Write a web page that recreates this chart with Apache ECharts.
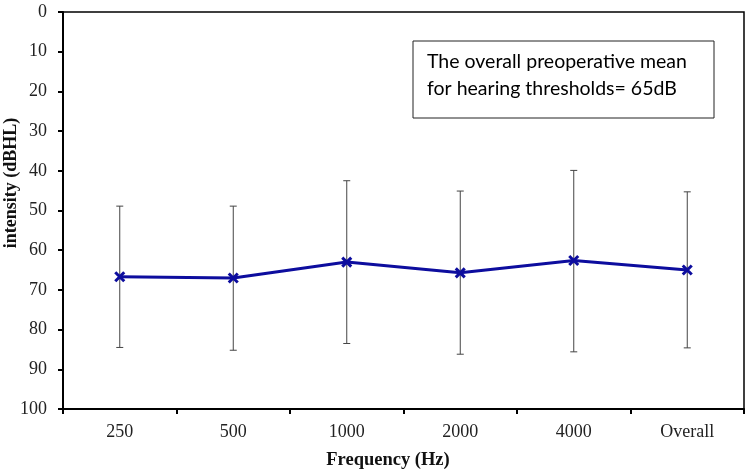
<!DOCTYPE html>
<html>
<head>
<meta charset="utf-8">
<script src="https://cdn.jsdelivr.net/npm/echarts@6/dist/echarts.min.js"></script>
<style>html,body{margin:0;padding:0;background:#fff;}#c{width:750px;height:471px;}</style>
</head>
<body>
<div id="c"></div>
<script>
var categories = ['250', '500', '1000', '2000', '4000', 'Overall'];
var meanValues = [66.7, 67.0, 63.0, 65.7, 62.6, 65.0];
var errTop = [48.9, 48.9, 42.5, 45.1, 39.9, 45.3];
var errBottom = [84.5, 85.2, 83.5, 86.2, 85.6, 84.6];
var yTicks = [0, 10, 20, 30, 40, 50, 60, 70, 80, 90, 100];

var chart = echarts.init(document.getElementById('c'), null, {renderer: 'canvas'});
var serif = '"Liberation Serif", "Times New Roman", serif';
var errData = categories.map(function (c, i) { return [i, errTop[i], errBottom[i]]; });

chart.setOption({
  animation: false,
  backgroundColor: '#fff',
  grid: {left: 63, right: 6, top: 12, bottom: 62, show: true, borderColor: '#000', borderWidth: 1.5, backgroundColor: 'transparent'},
  xAxis: {
    type: 'category', data: categories, boundaryGap: true,
    axisLine: {onZero: false, lineStyle: {color: '#000', width: 2}},
    axisTick: {show: true, alignWithLabel: false, length: 5, lineStyle: {color: '#000', width: 2}},
    axisLabel: {color: '#222', fontFamily: serif, fontSize: 18, margin: 14},
    splitLine: {show: false}
  },
  yAxis: {
    type: 'value', inverse: true, min: yTicks[0], max: yTicks[yTicks.length - 1], interval: 10,
    axisLine: {show: true, lineStyle: {color: '#000', width: 2}},
    axisTick: {show: true, length: 5, lineStyle: {color: '#000', width: 2}},
    axisLabel: {color: '#222', fontFamily: serif, fontSize: 18, margin: 16},
    splitLine: {show: false}
  },
  graphic: [
    {type: 'text', x: 388, y: 460, style: {text: 'Frequency (Hz)', font: 'bold 18.5px ' + serif, fill: '#111', align: 'center', verticalAlign: 'middle'}},
    {type: 'text', x: 11, y: 183, rotation: Math.PI / 2, style: {text: 'intensity (dBHL)', font: 'bold 18px ' + serif, fill: '#111', align: 'center', verticalAlign: 'middle'}},
    {type: 'rect', shape: {x: 413, y: 41, width: 301, height: 77}, style: {fill: '#fff', stroke: '#222', lineWidth: 1}},
    {type: 'text', x: 427, y: 62, style: {text: 'The overall preoperative mean', font: '19.5px Lato, "Open Sans", sans-serif', fill: '#000', verticalAlign: 'middle'}},
    {type: 'text', x: 427, y: 89, style: {text: 'for hearing thresholds= 65dB', font: '19.5px Lato, "Open Sans", sans-serif', fill: '#000', verticalAlign: 'middle'}}
  ],
  series: [
    {
      type: 'custom', data: errData, z: 2,
      renderItem: function (params, api) {
        var x = api.coord([api.value(0), api.value(1)]);
        var y = api.coord([api.value(0), api.value(2)]);
        var hw = 3.5;
        var st = {stroke: '#444', lineWidth: 1};
        return {type: 'group', children: [
          {type: 'line', shape: {x1: x[0], y1: x[1], x2: y[0], y2: y[1]}, style: st},
          {type: 'line', shape: {x1: x[0] - hw, y1: x[1], x2: x[0] + hw, y2: x[1]}, style: st},
          {type: 'line', shape: {x1: y[0] - hw, y1: y[1], x2: y[0] + hw, y2: y[1]}, style: st}
        ]};
      }
    },
    {
      type: 'line', data: meanValues, z: 3,
      lineStyle: {color: '#0d0d9e', width: 3},
      symbol: 'path://M0 0L10 10M10 0L0 10', symbolSize: 9,
      itemStyle: {color: '#0d0d9e', borderColor: '#0d0d9e', borderWidth: 3}
    }
  ]
});
</script>
</body>
</html>
